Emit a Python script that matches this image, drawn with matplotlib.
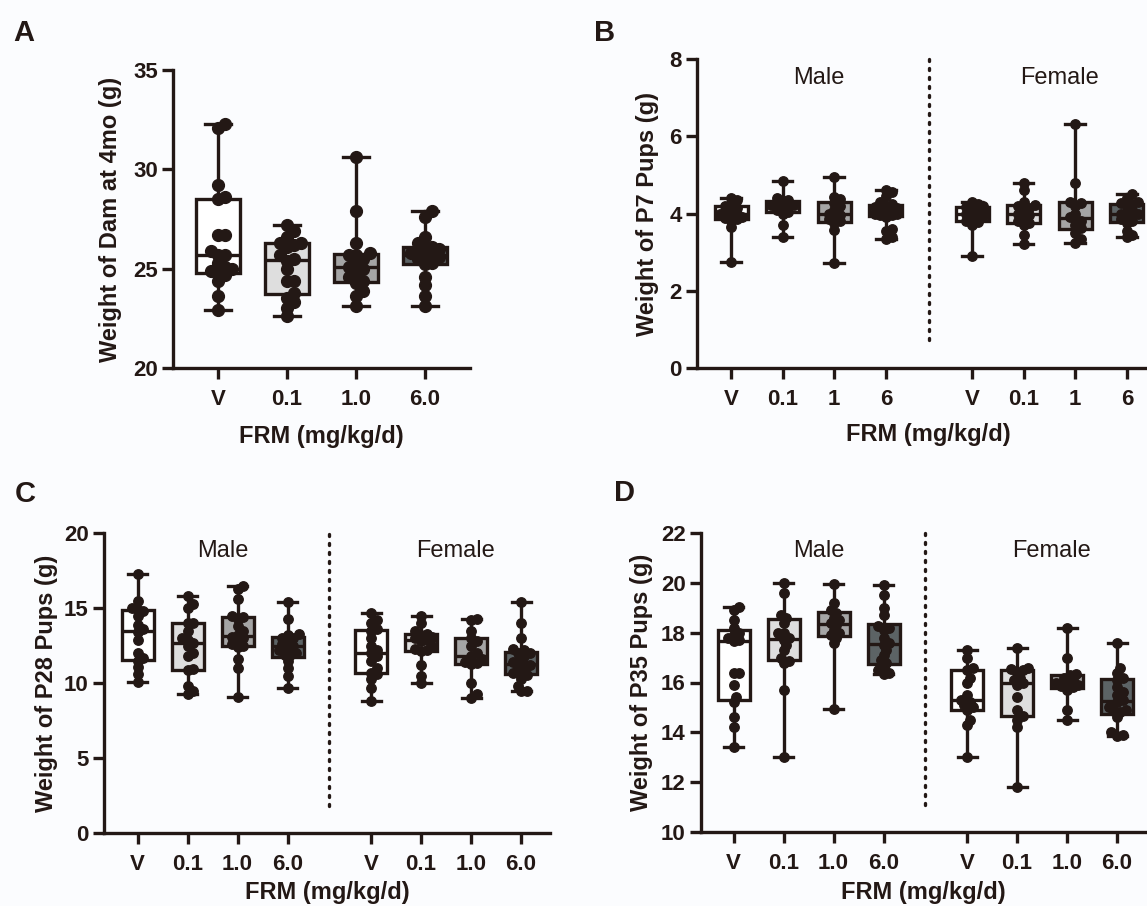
import numpy as np
import matplotlib.pyplot as plt

# ---- data (g) ----
doses_a = ['V', '0.1', '1.0', '6.0']
doses_b = ['V', '0.1', '1', '6']

# A: dam weight at 4 months
dam_v = [22.9, 23.6, 24.4, 24.7, 24.8, 24.9, 25.0, 25.1, 25.3, 25.7, 25.7, 25.9, 26.7, 26.7, 28.5, 28.6, 29.2, 32.1, 32.3]
dam_01 = [22.6, 23.0, 23.3, 23.5, 23.8, 24.4, 24.4, 25.0, 25.4, 25.5, 25.7, 26.1, 26.2, 26.3, 26.3, 26.6, 26.9, 27.2]
dam_1 = [23.1, 23.6, 23.9, 24.3, 24.4, 24.6, 24.8, 25.0, 25.1, 25.3, 25.5, 25.7, 25.7, 25.8, 26.3, 27.9, 30.6]
dam_6 = [23.1, 23.6, 24.2, 24.6, 25.25, 25.3, 25.5, 25.6, 25.7, 25.7, 25.8, 25.9, 26.0, 26.1, 26.1, 26.3, 26.6, 27.6, 27.9]

# B: P7 pups
p7_m_v = [2.75, 3.65, 3.8, 3.85, 3.88, 3.9, 3.95, 4.0, 4.0, 4.05, 4.1, 4.15, 4.2, 4.25, 4.35, 4.4]
p7_m_01 = [3.4, 3.7, 4.0, 4.05, 4.1, 4.15, 4.2, 4.22, 4.22, 4.25, 4.3, 4.32, 4.35, 4.4, 4.85]
p7_m_1 = [2.73, 3.58, 3.75, 3.8, 3.85, 3.9, 3.95, 4.0, 4.1, 4.2, 4.28, 4.37, 4.44, 4.95]
p7_m_6 = [3.33, 3.4, 3.55, 3.6, 3.9, 3.95, 3.97, 4.0, 4.0, 4.02, 4.05, 4.1, 4.12, 4.15, 4.18, 4.2, 4.25, 4.3, 4.45, 4.55, 4.62]
p7_f_v = [2.9, 3.7, 3.78, 3.8, 3.85, 3.9, 3.95, 4.0, 4.0, 4.05, 4.1, 4.15, 4.18, 4.2, 4.25, 4.3]
p7_f_01 = [3.22, 3.45, 3.7, 3.75, 3.8, 3.9, 3.95, 4.0, 4.1, 4.15, 4.2, 4.22, 4.3, 4.6, 4.78]
p7_f_1 = [3.23, 3.35, 3.5, 3.62, 3.7, 3.8, 3.85, 3.9, 4.0, 4.2, 4.28, 4.3, 4.78, 6.33]
p7_f_6 = [3.4, 3.45, 3.55, 3.75, 3.8, 3.85, 3.9, 3.95, 4.0, 4.0, 4.05, 4.1, 4.2, 4.25, 4.28, 4.3, 4.4, 4.5]

# C: P28 pups
p28_m_v = [10.1, 10.6, 11.1, 11.5, 11.7, 12.0, 12.9, 13.4, 13.6, 13.9, 14.5, 14.8, 14.9, 15.0, 15.5, 17.3]
p28_m_01 = [9.27, 9.5, 9.8, 10.85, 10.95, 11.8, 12.0, 12.5, 12.7, 12.9, 13.0, 13.5, 14.0, 14.0, 15.0, 15.3, 15.8]
p28_m_1 = [9.1, 11.0, 11.6, 12.4, 12.5, 12.6, 12.8, 13.0, 13.1, 13.2, 13.5, 13.8, 14.3, 14.4, 14.5, 15.6, 16.3, 16.5]
p28_m_6 = [9.7, 10.5, 11.0, 11.5, 11.85, 11.9, 12.0, 12.2, 12.4, 12.5, 12.6, 12.8, 13.0, 13.0, 13.2, 13.3, 14.3, 15.4]
p28_f_v = [8.8, 9.7, 10.3, 10.6, 10.7, 11.0, 11.5, 11.8, 12.0, 12.2, 12.5, 13.0, 13.5, 13.6, 14.0, 14.2, 14.7]
p28_f_01 = [10.0, 10.5, 11.2, 12.15, 12.2, 12.3, 12.5, 12.8, 12.9, 13.0, 13.1, 13.2, 13.3, 13.5, 14.0, 14.5]
p28_f_1 = [9.0, 9.3, 10.0, 11.3, 11.35, 11.4, 11.6, 11.8, 12.0, 12.5, 12.8, 13.0, 13.5, 14.2, 14.3]
p28_f_6 = [9.45, 9.5, 9.8, 10.3, 10.55, 10.65, 10.7, 10.9, 11.1, 11.2, 11.3, 11.4, 11.5, 11.8, 12.0, 12.0, 12.2, 12.3, 13.0, 14.0, 15.4]

# D: P35 pups
p35_m_v = [13.4, 14.2, 14.6, 15.2, 15.4, 15.9, 16.4, 16.4, 17.65, 17.7, 17.8, 17.9, 18.0, 18.2, 18.5, 18.9, 19.05]
p35_m_01 = [13.0, 15.7, 16.8, 16.85, 17.0, 17.3, 17.5, 17.7, 17.8, 18.0, 18.0, 18.4, 18.6, 18.7, 19.6, 20.0]
p35_m_1 = [14.95, 17.6, 17.8, 17.9, 18.0, 18.1, 18.3, 18.4, 18.5, 18.6, 18.8, 18.9, 19.2, 19.95]
p35_m_6 = [16.35, 16.4, 16.5, 16.6, 16.8, 16.9, 17.1, 17.3, 17.5, 17.6, 17.8, 18.1, 18.2, 18.25, 18.7, 19.0, 19.5, 19.9]
p35_f_v = [13.0, 14.3, 14.5, 14.9, 15.0, 15.1, 15.2, 15.3, 15.5, 16.0, 16.2, 16.5, 16.6, 17.0, 17.3]
p35_f_01 = [11.8, 14.2, 14.5, 14.65, 14.9, 15.4, 15.9, 16.0, 16.1, 16.2, 16.4, 16.5, 16.55, 16.6, 17.4]
p35_f_1 = [14.5, 14.9, 15.7, 15.8, 15.85, 15.9, 16.0, 16.0, 16.1, 16.2, 16.3, 16.35, 17.0, 18.2]
p35_f_6 = [13.85, 13.9, 14.0, 14.6, 14.8, 14.85, 14.9, 15.0, 15.2, 15.3, 15.5, 15.6, 15.8, 16.1, 16.2, 16.4, 16.6, 17.6]

# ---- style ----
INK = '#231815'
BG = '#fbfcfe'
FILLS = ['white', '#dedede', '#a5a5a5', '#5c6365']
plt.rcParams['font.family'] = ['Liberation Sans', 'DejaVu Sans']
plt.rcParams['text.color'] = INK

W, H = 1147, 906
fig = plt.figure(figsize=(W / 100, H / 100), dpi=100, facecolor=BG)


def add_panel(left, right, top, bottom):
    # pixel box -> figure fraction
    return fig.add_axes([left / W, 1 - bottom / H, (right - left) / W, (bottom - top) / H], facecolor=BG)


def swarm(ax, x0, vals, d_px, half_w):
    # compact beeswarm, points may overlap a bit, kept inside about the box width
    ys = ax.transData.transform(np.column_stack([np.full(len(vals), x0), vals]))[:, 1]
    offs = np.zeros(len(vals))
    placed = []
    for i in np.argsort(ys):
        best = 0.0
        for k in range(40):
            dx = ((k + 1) // 2) * (1 if k % 2 else -1) * d_px * 0.3
            if abs(dx) > half_w:
                break
            if all((dx - px) ** 2 + (ys[i] - py) ** 2 >= (d_px * 0.6) ** 2 for px, py in placed):
                best = dx
                break
        placed.append((best, ys[i]))
        offs[i] = best
    ppu = ax.transData.transform([(1, 0)])[0, 0] - ax.transData.transform([(0, 0)])[0, 0]
    return x0 + offs / ppu


def draw(ax, groups, positions, fills, xlim, ylim, yticks, xlabels, ylabel, ylabel_x,
         msize, letter, letter_xy, xlabel_y, sexes=False):
    ax.set_xlim(*xlim)
    ax.set_ylim(*ylim)
    stats = []
    for g in groups:
        q1, med, q3 = np.percentile(g, [25, 50, 75], method='weibull')
        stats.append(dict(med=med, q1=q1, q3=q3, whislo=min(g), whishi=max(g), fliers=[]))
    bp = ax.bxp(stats, positions=positions, widths=0.64, capwidths=0.38, patch_artist=True,
                showfliers=False,
                boxprops=dict(edgecolor=INK, linewidth=2.4),
                medianprops=dict(color=INK, linewidth=2.4),
                whiskerprops=dict(color=INK, linewidth=2.4),
                capprops=dict(color=INK, linewidth=2.4))
    for patch, fc in zip(bp['boxes'], fills):
        patch.set_facecolor(fc)
    d_px = msize * 100 / 72
    ppu = ax.transData.transform([(1, 0)])[0, 0] - ax.transData.transform([(0, 0)])[0, 0]
    for x0, g in zip(positions, groups):
        ax.plot(swarm(ax, x0, g, d_px, 0.3 * ppu), g, 'o', ms=msize, color=INK, mec=INK, zorder=4)

    for s in ['top', 'right']:
        ax.spines[s].set_visible(False)
    for s in ['left', 'bottom']:
        ax.spines[s].set_linewidth(2.4)
        ax.spines[s].set_color(INK)
    ax.set_yticks(yticks)
    ax.set_xticks(positions)
    ax.set_xticklabels(xlabels)
    ax.tick_params(axis='both', length=8, width=2.4, color=INK, labelsize=16, labelcolor=INK)
    ax.tick_params(axis='y', pad=3)
    ax.tick_params(axis='x', pad=7)
    for lab in ax.get_xticklabels() + ax.get_yticklabels():
        lab.set_fontweight('bold')
    ax.text(ylabel_x, 0.5, ylabel, transform=ax.transAxes, rotation=90, ha='center', va='center',
            fontsize=17, fontweight='bold')
    bb = ax.get_position()
    fig.text(bb.x0 + bb.width / 2, 1 - xlabel_y / H, 'FRM (mg/kg/d)', ha='center', va='center',
             fontsize=17, fontweight='bold')
    fig.text(letter_xy[0] / W, 1 - letter_xy[1] / H, letter, ha='center', va='center',
             fontsize=21, fontweight='bold')
    if sexes:
        sep = (positions[3] + positions[4]) / 2
        ax.plot([sep, sep], [0.09, 1.0], transform=ax.get_xaxis_transform(), color=INK,
                lw=2.4, linestyle=(0, (0.6, 2.1)), dash_capstyle='round', clip_on=False)
        ax.text(np.mean(positions[:4]) + 0.2, 0.94, 'Male', transform=ax.get_xaxis_transform(),
                ha='center', va='center', fontsize=17)
        ax.text(np.mean(positions[4:]) + 0.2, 0.94, 'Female', transform=ax.get_xaxis_transform(),
                ha='center', va='center', fontsize=17)


pos4 = [0, 1, 2, 3]
pos8 = [0, 1, 2, 3, 4.67, 5.67, 6.67, 7.67]

ax_a = add_panel(173, 470, 70, 368)
draw(ax_a, [dam_v, dam_01, dam_1, dam_6], pos4, FILLS, (-0.652, 3.652), (20, 35),
     [20, 25, 30, 35], doses_a, 'Weight of Dam at 4mo (g)', -0.212, 8.5, 'A', (24, 33), 437)

ax_b = add_panel(697, 697 + 8.96 * 51.6, 59, 368)
draw(ax_b, [p7_m_v, p7_m_01, p7_m_1, p7_m_6, p7_f_v, p7_f_01, p7_f_1, p7_f_6], pos8, FILLS * 2,
     (-0.66, 8.3), (0, 8), [0, 2, 4, 6, 8], doses_b * 2, 'Weight of P7 Pups (g)', -0.106, 6.8,
     'B', (605, 33), 435, sexes=True)

ax_c = add_panel(104, 104 + 8.92 * 50, 533, 833)
draw(ax_c, [p28_m_v, p28_m_01, p28_m_1, p28_m_6, p28_f_v, p28_f_01, p28_f_1, p28_f_6], pos8, FILLS * 2,
     (-0.67, 8.25), (0, 20), [0, 5, 10, 15, 20], doses_a * 2, 'Weight of P28 Pups (g)', -0.13, 6.8,
     'C', (25, 494), 892, sexes=True)

ax_d = add_panel(701, 701 + 8.9 * 50, 533, 832)
draw(ax_d, [p35_m_v, p35_m_01, p35_m_1, p35_m_6, p35_f_v, p35_f_01, p35_f_1, p35_f_6], pos8, FILLS * 2,
     (-0.65, 8.25), (10, 22), [10, 12, 14, 16, 18, 20, 22], doses_a * 2, 'Weight of P35 Pups (g)',
     -0.133, 6.8, 'D', (625, 493), 892, sexes=True)

fig.savefig('out.png', dpi=100, facecolor=BG)
